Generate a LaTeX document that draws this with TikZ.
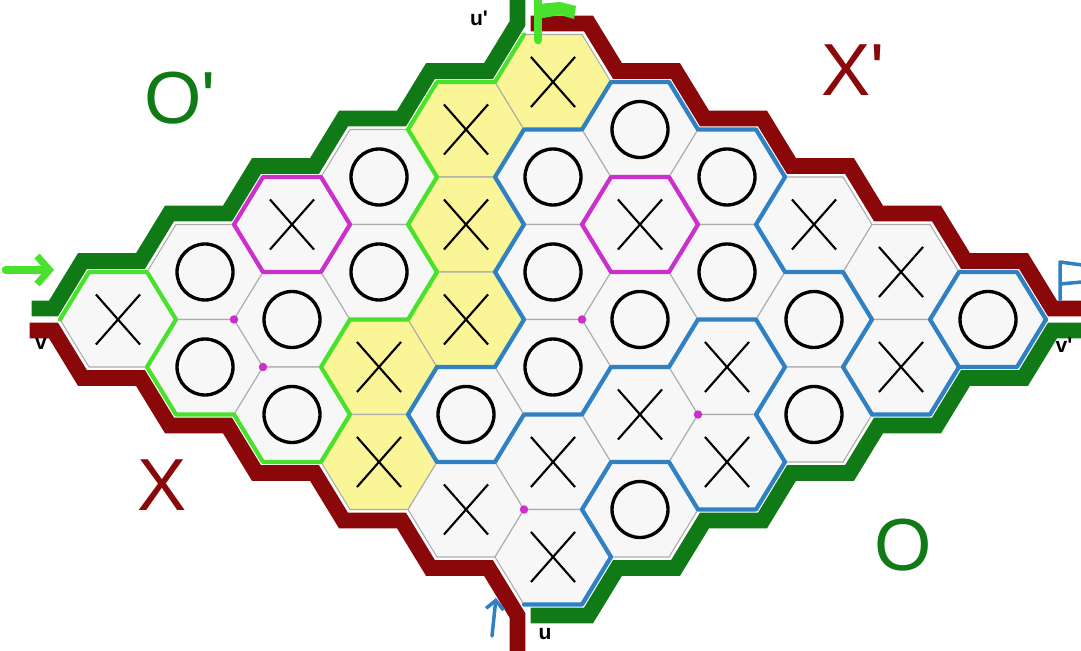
\documentclass[tikz,border=0pt]{standalone}
\usepackage{fontspec}
\setmainfont{Liberation Sans}
\usetikzlibrary{arrows.meta,shapes.misc}
\definecolor{bandRed}{RGB}{138, 8, 10}
\definecolor{bandGreen}{RGB}{16, 122, 22}
\definecolor{walkGreen}{RGB}{72, 226, 44}
\definecolor{walkBlue}{RGB}{48, 128, 196}
\definecolor{ringMag}{RGB}{204, 48, 204}
\definecolor{cellYellow}{RGB}{250, 245, 150}
\definecolor{cellWhite}{RGB}{247, 247, 247}

\begin{document}
\begin{tikzpicture}[
    x=0.02cm, y=-0.02cm,
    % Board cells
    cellEdge/.style={draw=gray!65, line width=0.6pt},
    fillw/.style={fill=cellWhite},
    filly/.style={fill=cellYellow},
    % Player marks
    markO/.style={circle, draw=black, line width=1.9pt, minimum size=1.12cm, inner sep=0pt},
    markX/.style={cross out, draw=black, line width=1.2pt,
        minimum width=0.84cm, minimum height=0.96cm, inner sep=0pt},
    % Thick side bands
    sideBand/.style={line width=9pt, line join=miter, line cap=butt},
    % Walks along the cell edges
    walkLine/.style={line width=2.4pt, line join=round, line cap=round},
    ringLine/.style={draw=ringMag, line width=2.4pt, line join=round},
    joint/.style={circle, fill=ringMag, inner sep=0pt, minimum size=0.17cm},
    % Labels
    sideLabel/.style={font=\fontsize{42}{42}\selectfont, inner sep=0pt},
    cornerLabel/.style={font=\bfseries\fontsize{12}{12}\selectfont, inner sep=0pt}
]
    \useasboundingbox[fill=white] (0,0) rectangle (1081,651);

    % Cells: a runs up-right, b runs down-right
    \foreach \a/\b/\m/\f in {0/0/X/w, 1/0/O/w, 0/1/O/w, 2/0/X/w, 1/1/O/w, 0/2/O/w,
        3/0/O/w, 2/1/O/w, 1/2/X/y, 0/3/X/y, 4/0/X/y, 3/1/X/y, 2/2/X/y, 1/3/O/w,
        0/4/X/w, 5/0/X/y, 4/1/O/w, 3/2/O/w, 2/3/O/w, 1/4/X/w, 0/5/X/w, 5/1/O/w,
        4/2/X/w, 3/3/O/w, 2/4/X/w, 1/5/O/w, 5/2/O/w, 4/3/O/w, 3/4/X/w, 2/5/X/w,
        5/3/X/w, 4/4/O/w, 3/5/O/w, 5/4/X/w, 4/5/X/w, 5/5/O/w}{
        \coordinate (c\a\b) at ({118+87*(\a+\b)},{319.5+47.5*(\b-\a)});
        \path (c\a\b) ++(-58,0) coordinate (c\a\b-w) ++(29,-47.5) coordinate (c\a\b-nw)
            ++(58,0) coordinate (c\a\b-ne) ++(29,47.5) coordinate (c\a\b-e)
            ++(-29,47.5) coordinate (c\a\b-se) ++(-58,0) coordinate (c\a\b-sw);
        \draw[cellEdge, fill\f] (c\a\b-w) -- (c\a\b-nw) -- (c\a\b-ne) -- (c\a\b-e)
            -- (c\a\b-se) -- (c\a\b-sw) -- cycle;
        \node[mark\m] (m\a\b) at (c\a\b) {};
    }

    % Side bands: O' upper left, X' upper right, X lower left, O lower right
    \draw[sideBand, bandGreen, transform canvas={shift={(-6.5,-11)}}]
        (c00-w) ++(-22,0) -- (c00-w) -- (c00-nw) -- (c00-ne) -- (c10-nw) -- (c10-ne)
        -- (c20-nw) -- (c20-ne) -- (c30-nw) -- (c30-ne) -- (c40-nw) -- (c40-ne)
        -- (c50-nw) -- ++(0,-30);
    \draw[sideBand, bandRed, transform canvas={shift={(6.5,-11)}}]
        (c50-nw) -- (c50-ne) -- (c50-e) -- (c51-ne) -- (c51-e) -- (c52-ne) -- (c52-e)
        -- (c53-ne) -- (c53-e) -- (c54-ne) -- (c54-e) -- (c55-ne) -- (c55-e) -- ++(30,0);
    \draw[sideBand, bandRed, transform canvas={shift={(-6.5,11)}}]
        (c00-w) ++(-24,0) -- (c00-w) -- (c00-sw) -- (c00-se) -- (c01-sw) -- (c01-se)
        -- (c02-sw) -- (c02-se) -- (c03-sw) -- (c03-se) -- (c04-sw) -- (c04-se)
        -- (c05-sw) -- ++(0,40);
    \draw[sideBand, bandGreen, transform canvas={shift={(6.5,11)}}]
        (c05-sw) -- (c05-se) -- (c05-e) -- (c15-se) -- (c15-e) -- (c25-se) -- (c25-e)
        -- (c35-se) -- (c35-e) -- (c45-se) -- (c45-e) -- (c55-se) -- (c55-e) -- ++(30,0);

    % Walk from v to u'
    \draw[walkLine, walkGreen] (c00-w) -- (c00-nw) -- (c00-ne) -- (c00-e) -- (c00-se)
        -- (c01-sw) -- (c01-se) -- (c02-sw) -- (c02-se) -- (c02-e) -- (c12-w)
        -- (c12-nw) -- (c12-ne) -- (c22-nw) -- (c31-w) -- (c31-nw) -- (c40-w)
        -- (c40-nw) -- (c40-ne) -- (c50-nw);

    % Walk from u to v'
    \draw[walkLine, walkBlue] (c05-sw) -- (c05-se) -- (c05-e) -- (c05-ne) -- (c14-e)
        -- (c24-se) -- (c25-sw) -- (c25-se) -- (c25-e) -- (c25-ne) -- (c34-e)
        -- (c34-ne) -- (c34-nw) -- (c34-w) -- (c24-nw) -- (c24-w) -- (c14-nw)
        -- (c14-w) -- (c04-nw) -- (c13-w) -- (c13-nw) -- (c13-ne) -- (c22-e)
        -- (c22-ne) -- (c31-e) -- (c31-ne) -- (c40-e) -- (c50-se) -- (c50-e)
        -- (c51-ne) -- (c51-e) -- (c52-ne) -- (c52-e) -- (c53-w) -- (c53-sw)
        -- (c53-se) -- (c54-sw) -- (c45-w) -- (c45-sw) -- (c45-se) -- (c45-e)
        -- (c45-ne) -- (c55-nw) -- (c55-ne) -- (c55-e);
    \draw[walkLine, walkBlue] (c55-e) -- (c55-se) -- (c55-sw) -- (c45-e);

    % Single X cells
    \draw[ringLine] (c20-w) -- (c20-nw) -- (c20-ne) -- (c20-e) -- (c20-se) -- (c20-sw) -- cycle;
    \draw[ringLine] (c42-w) -- (c42-nw) -- (c42-ne) -- (c42-e) -- (c42-se) -- (c42-sw) -- cycle;

    % Pivot points
    \node[joint] (p1) at (c10-se) {};
    \node[joint] (p2) at (c11-sw) {};
    \node[joint] (p3) at (c32-se) {};
    \node[joint] (p4) at (c24-e) {};
    \node[joint] (p5) at (c04-e) {};

    % Start arrows
    \coordinate (gTail) at (6,270);
    \coordinate (gHead) at (54,270);
    \draw[walkGreen, line width=5pt, line cap=round,
        -{Straight Barb[length=7pt, width=16pt, line width=4pt]}] (gTail) -- (gHead);
    \coordinate (bTail) at (492,636);
    \coordinate (bHead) at (496,598);
    \draw[walkBlue, line width=2pt, line cap=round,
        -{Straight Barb[length=5pt, width=10pt]}] (bTail) -- (bHead);

    % End flags
    \coordinate (gFoot) at (538,40);
    \coordinate (gTop) at (538,1);
    \draw[walkGreen, line width=5pt, line cap=round] (gFoot) -- (gTop);
    \fill[walkGreen] (gTop) ++(0,3) -- ++(22,-2) -- ++(16,4) -- ++(-2,13) -- ++(-14,-4)
        -- ++(-22,4) -- cycle;
    \coordinate (bFoot) at (1060,300);
    \coordinate (bTop) at (1060,262);
    \draw[walkBlue, line width=2pt, line cap=round, line join=round]
        (bFoot) -- (bTop) -- ++(22,3) (bTop) ++(0,22) -- ++(22,-2);

    % Side labels
    \node[sideLabel, text=bandGreen] (lblOp) at (180,98) {O\textquotesingle};
    \node[sideLabel, text=bandRed] (lblXp) at (853,70) {X\textquotesingle};
    \node[sideLabel, text=bandRed] (lblX) at (162,485) {X};
    \node[sideLabel, text=bandGreen] (lblO) at (903,545) {O};

    % Corner labels
    \node[cornerLabel] (lblu') at (479,18) {u\textquotesingle};
    \node[cornerLabel] (lblv) at (41,344) {v};
    \node[cornerLabel] (lblv') at (1064,345) {v\textquotesingle};
    \node[cornerLabel] (lblu) at (545,634) {u};
\end{tikzpicture}
\end{document}
